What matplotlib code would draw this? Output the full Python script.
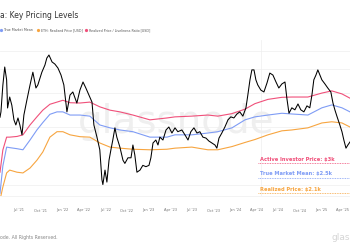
import matplotlib
matplotlib.use("Agg")
import matplotlib.pyplot as plt
import matplotlib.dates as mdates
from matplotlib.lines import Line2D
import pandas as pd

# ETH price (USD)
price_dates = [
    "2021-04-12", "2021-04-16", "2021-04-24", "2021-05-02", "2021-05-10", "2021-05-14",
    "2021-05-23", "2021-06-01", "2021-06-10", "2021-06-18", "2021-06-27", "2021-07-05",
    "2021-07-14", "2021-07-22", "2021-08-04", "2021-08-17", "2021-08-29", "2021-09-11",
    "2021-09-19", "2021-10-06", "2021-10-19", "2021-10-27", "2021-11-05", "2021-11-18",
    "2021-11-30", "2021-12-13", "2021-12-26", "2022-01-07", "2022-01-20", "2022-02-02",
    "2022-02-14", "2022-03-03", "2022-03-16", "2022-03-29", "2022-04-10", "2022-04-23",
    "2022-05-06", "2022-05-14", "2022-05-27", "2022-06-08", "2022-06-17", "2022-06-21",
    "2022-06-30", "2022-07-08", "2022-07-17", "2022-07-25", "2022-08-02", "2022-08-11",
    "2022-08-19", "2022-09-01", "2022-09-14", "2022-09-22", "2022-10-05", "2022-10-18",
    "2022-10-26", "2022-11-03", "2022-11-12", "2022-11-25", "2022-12-07", "2022-12-20",
    "2023-01-02", "2023-01-10", "2023-01-19", "2023-01-31", "2023-02-09", "2023-02-17",
    "2023-03-02", "2023-03-15", "2023-03-27", "2023-04-09", "2023-04-22", "2023-05-04",
    "2023-05-21", "2023-06-03", "2023-06-16", "2023-06-28", "2023-07-11", "2023-07-24",
    "2023-08-05", "2023-08-18", "2023-08-31", "2023-09-12", "2023-09-25", "2023-10-08",
    "2023-10-16", "2023-10-25", "2023-11-06", "2023-11-19", "2023-12-02", "2023-12-14",
    "2023-12-27", "2024-01-09", "2024-01-21", "2024-02-03", "2024-02-16", "2024-02-24",
    "2024-03-04", "2024-03-12", "2024-03-21", "2024-03-29", "2024-04-06", "2024-04-19",
    "2024-05-02", "2024-05-15", "2024-05-27", "2024-06-09", "2024-06-22", "2024-07-04",
    "2024-07-17", "2024-07-30", "2024-08-07", "2024-08-16", "2024-08-28", "2024-09-10",
    "2024-09-23", "2024-10-05", "2024-10-18", "2024-10-31", "2024-11-12", "2024-11-21",
    "2024-11-29", "2024-12-08", "2024-12-16", "2024-12-25", "2025-01-02", "2025-01-15",
    "2025-01-27", "2025-02-09", "2025-02-18", "2025-02-26", "2025-03-07", "2025-03-19",
    "2025-03-28", "2025-04-05", "2025-04-14", "2025-04-22", "2025-05-01",
]
price_values = [
    2250, 2400, 3300, 4120, 3530, 2515,
    2870, 2600, 2180, 2050, 2230, 2050,
    1820, 2310, 2780, 3320, 3870, 3200,
    3320, 3870, 4220, 4590, 4760, 4380,
    4270, 4070, 3740, 3320, 2400, 2940,
    3050, 2670, 3120, 3440, 3200, 2940,
    2700, 2050, 1770, 1520, 1060, 1000,
    1190, 1030, 1340, 1520, 1710, 1980,
    1770, 1570, 1340, 1290, 1380, 1380,
    1610, 1430, 1160, 1190, 1260, 1240,
    1260, 1380, 1650, 1710, 1610, 1770,
    1710, 1930, 2000, 1860, 1980, 1890,
    1930, 1820, 1710, 1890, 1980, 1860,
    1890, 1770, 1750, 1690, 1650, 1610,
    1550, 1750, 1860, 2000, 2180, 2260,
    2230, 2340, 2400, 2280, 2520, 2940,
    3530, 3980, 3980, 3530, 3320, 3120,
    3050, 3400, 3830, 3740, 3440, 3200,
    3360, 3440, 2830, 2360, 2520, 2460,
    2640, 2460, 2400, 2580, 2520, 2940,
    3530, 3740, 3980, 3740, 3530, 3360,
    3200, 3050, 2670, 2460, 2270, 2050,
    1890, 1710, 1550, 1610, 1670,
]

# pricing levels (USD)
level_dates = [
    "2021-04-12", "2021-04-24", "2021-05-10", "2021-05-23", "2021-06-23", "2021-07-18",
    "2021-08-17", "2021-09-15", "2021-10-10", "2021-11-09", "2021-12-09", "2022-01-03",
    "2022-02-02", "2022-03-16", "2022-04-27", "2022-06-08", "2022-07-21", "2022-09-01",
    "2022-10-26", "2023-01-06", "2023-03-19", "2023-04-22", "2023-07-02", "2023-09-08",
    "2023-10-20", "2023-12-19", "2024-02-12", "2024-03-25", "2024-05-19", "2024-07-17",
    "2024-08-28", "2024-11-04", "2025-01-02", "2025-02-13", "2025-03-28", "2025-05-01",
]
active_investor = [
    1160, 1515, 1770, 1770, 1785, 1820, 2050, 2260, 2450, 2630, 2700, 2760,
    2680, 2670, 2700, 2550, 2450, 2400, 2310, 2180, 2230, 2260, 2280, 2310,
    2280, 2350, 2480, 2650, 2790, 2860, 2870, 2870, 3010, 3090, 2980, 2830,
]
true_market_mean = [
    900, 1250, 1570, 1560, 1540, 1520, 1710, 1930, 2110, 2330, 2400, 2400,
    2310, 2310, 2280, 2050, 1980, 1930, 1890, 1770, 1770, 1820, 1820, 1860,
    1890, 1980, 2180, 2260, 2310, 2360, 2340, 2310, 2520, 2610, 2520, 2400,
]
realized_price = [
    830, 970, 1150, 1190, 1160, 1150, 1220, 1340, 1480, 1770, 1890, 1890,
    1820, 1780, 1770, 1650, 1570, 1550, 1530, 1520, 1530, 1550, 1570, 1520,
    1520, 1580, 1660, 1720, 1820, 1910, 1930, 1980, 2100, 2130, 2100, 2000,
]

PINK = "#f0507a"
BLUE = "#7f9cf5"
ORANGE = "#f7a540"

fig = plt.figure(figsize=(3.5, 2.5), dpi=100)
ax = fig.add_axes([0.0, 0.216, 1.0, 0.624])

pdates = pd.to_datetime(price_dates)
ldates = pd.to_datetime(level_dates)

ax.text(0.503, 0.474, "glassnode", transform=ax.transAxes, fontsize=28,
        color="#efefef", ha="center", va="center", zorder=0)

ax.plot(ldates, realized_price, color=ORANGE, lw=0.8, zorder=2)
ax.plot(ldates, true_market_mean, color=BLUE, lw=0.8, zorder=2)
ax.plot(ldates, active_investor, color=PINK, lw=0.8, zorder=2)
ax.plot(pdates, price_values, color="black", lw=0.75, zorder=3)

ax.set_yscale("log")
ax.set_ylim(871, 5705)
ax.set_xlim(pd.Timestamp("2021-04-12"), pd.Timestamp("2025-05-01"))
ax.set_yticks([1000, 2000, 3000, 4000, 5000])
ax.yaxis.set_minor_locator(matplotlib.ticker.NullLocator())
ax.tick_params(axis="y", left=False, labelleft=False)
ax.grid(axis="y", color="#eeeeee", lw=0.5, zorder=0)
ax.axvline(pd.Timestamp("2024-04-20"), color="#eeeeee", lw=0.5, zorder=0)

ax.xaxis.set_major_locator(mdates.MonthLocator(bymonth=[1, 4, 7, 10]))
ax.xaxis.set_major_formatter(mdates.DateFormatter("%b '%y"))
ax.tick_params(axis="x", length=0, labelsize=2.6, labelcolor="#777777", pad=9)
for s in ["top", "left", "right"]:
    ax.spines[s].set_visible(False)
ax.spines["bottom"].set_color("#eeeeee")
ax.spines["bottom"].set_linewidth(0.5)

# title and legend
fig.text(0.0, 0.94, "a: Key Pricing Levels", fontsize=5.5, color="#333333", va="center")
legend = [(0.004, 0.011, BLUE, "True Market Mean"),
          (0.109, 0.116, ORANGE, "ETH: Realized Price [USD]"),
          (0.246, 0.254, PINK, "Realized Price / Liveliness Ratio [USD]")]
for xd, xt, c, lab in legend:
    fig.add_artist(Line2D([xd], [0.88], marker="o", ms=1.3, color=c, lw=0,
                          transform=fig.transFigure))
    fig.text(xt, 0.88, lab, fontsize=2.3, color="#555555", va="center")

# level annotations
notes = [(0.364, 0.348, PINK, "Active Investor Price: $3k"),
         (0.304, 0.288, BLUE, "True Market Mean: $2.5k"),
         (0.244, 0.228, ORANGE, "Realized Price: $2.1k")]
for yt, yl, c, lab in notes:
    fig.text(0.743, yt, lab, fontsize=3.7, color=c, va="center", fontweight="semibold")
    fig.add_artist(Line2D([0.737, 1.0], [yl, yl], color=c, lw=0.6, ls=(0, (1, 1)),
                          transform=fig.transFigure))

fig.text(0.0, 0.052, "ode. All Rights Reserved.", fontsize=3.3, color="#888888", va="center")
fig.text(1.0, 0.048, "glas", fontsize=6.5, color="#d5d5d5", va="center", ha="right")

fig.savefig("out.png", dpi=100)
